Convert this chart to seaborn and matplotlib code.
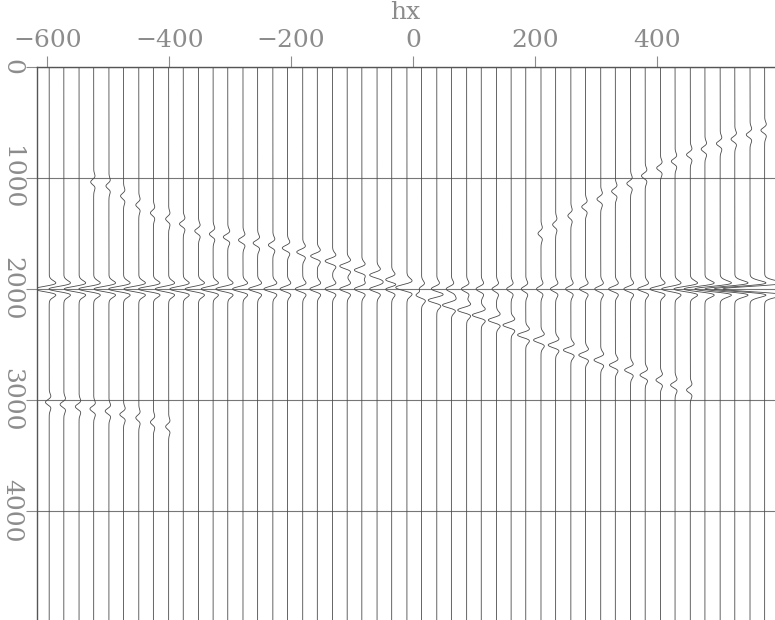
import numpy as np
import pandas as pd
import matplotlib
matplotlib.use("Agg")
import matplotlib.pyplot as plt
import seaborn as sns

# trace offsets (hx)
trace_hx = [-597, -573, -548, -524, -499, -475, -450, -426, -401, -377,
            -352, -328, -304, -279, -255, -230, -206, -181, -157, -132,
            -108, -84, -59, -35, -10, 14, 39, 63, 88, 112,
            137, 161, 185, 210, 234, 259, 283, 308, 332, 357,
            381, 406, 430, 455, 479, 504, 528, 553, 577]
trace_gap = 24.45

# flat event at t = 2000, amplitude in trace spacings
flat_t = 2000
flat_amp = [1.0, 1.0, 1.0, 1.0, 1.0, 1.0, 1.0, 1.0, 0.9, 0.9,
            0.9, 0.8, 0.8, 0.7, 0.6, 0.6, 0.5, 0.5, 0.5, 0.5,
            0.5, 0.5, 0.5, 0.5, 0.5, 0.4, 0.4, 0.35, 0.35, 0.35,
            0.3, 0.3, 0.3, 0.3, 0.35, 0.35, 0.4, 0.4, 0.45, 0.45,
            0.5, 0.7, 0.9, 1.1, 1.4, 1.7, 2.0, 2.4, 2.8]

nan = np.nan
# dipping event (upper left -> lower right)
dip_t = [nan, nan, nan, 1036, 1072, 1162, 1243, 1315, 1369, 1414,
         1477, 1505, 1532, 1559, 1586, 1604, 1631, 1667, 1703, 1748,
         1793, 1829, 1874, 1919, 1973, 2055, 2100, 2145, 2190, 2235,
         2280, 2325, 2414, 2460, 2505, 2550, 2595, 2640, 2685, 2730,
         2775, 2820, 2865, 2910, nan, nan, nan, nan, nan]
dip_amp = [0, 0, 0, 0.2, 0.2, 0.2, 0.2, 0.2, 0.2, 0.25,
           0.25, 0.25, 0.3, 0.3, 0.3, 0.3, 0.35, 0.4, 0.45, 0.5,
           0.5, 0.5, 0.5, 0.5, 0.5, 0.55, 0.6, 0.6, 0.6, 0.6,
           0.55, 0.55, 0.55, 0.5, 0.5, 0.5, 0.45, 0.45, 0.4, 0.4,
           0.35, 0.3, 0.3, 0.25, 0, 0, 0, 0, 0]

# weaker events (lower left, upper right)
anti_t = [3020, 3040, 3060, 3080, 3100, 3130, 3160, 3200, 3240, nan,
          nan, nan, nan, nan, nan, nan, nan, nan, nan, nan,
          nan, nan, nan, nan, nan, nan, nan, nan, nan, nan,
          nan, nan, nan, 1500, 1420, 1340, 1260, 1190, 1120, 1050,
          980, 910, 850, 790, 740, 690, 650, 610, 570]
anti_amp = [0.25, 0.25, 0.25, 0.25, 0.25, 0.25, 0.2, 0.2, 0.2, 0,
            0, 0, 0, 0, 0, 0, 0, 0, 0, 0,
            0, 0, 0, 0, 0, 0, 0, 0, 0, 0,
            0, 0, 0, 0.2, 0.2, 0.2, 0.25, 0.25, 0.25, 0.25,
            0.25, 0.25, 0.25, 0.25, 0.25, 0.25, 0.25, 0.25, 0.25]

x_ticks = [-600, -400, -200, 0, 200, 400]
t_ticks = [0, 1000, 2000, 3000, 4000]


def ricker(t, s=45.0):
    a = (t / s) ** 2
    return (1 - 2 * a) * np.exp(-a)


t = np.arange(0, 5001, 4.0)
rows = []
for k, hx in enumerate(trace_hx):
    w = flat_amp[k] * ricker(t - flat_t)
    if not np.isnan(dip_t[k]):
        w += dip_amp[k] * ricker(t - dip_t[k])
    if not np.isnan(anti_t[k]):
        w += anti_amp[k] * ricker(t - anti_t[k])
    x = hx - trace_gap * w
    rows.append(pd.DataFrame({"trace": k, "t": t, "x": x}))
df = pd.concat(rows, ignore_index=True)

sns.set_style("white")
plt.rcParams["font.family"] = ["DejaVu Serif"]
grey = "#8c8c8c"

fig = plt.figure(figsize=(7.75, 6.2), dpi=100)
ax = fig.add_axes([37 / 775, 0, 1 - 37 / 775, 553 / 620])

ax.yaxis.grid(True, color="#777777", lw=0.8)
ax.set_axisbelow(True)
sns.lineplot(data=df, x="x", y="t", units="trace", estimator=None,
             sort=False, orient="y", color="#4a4a4a", lw=0.6, ax=ax,
             legend=False)

ax.set_xlim(-617, 594)
ax.set_ylim(4982, 0)
ax.xaxis.tick_top()
ax.set_xticks(x_ticks)
ax.set_yticks(t_ticks)
ax.set_xlabel("")
ax.set_ylabel("")
# axis title sits in the top margin, above the tick labels
fig.text(405 / 775, 1 - 1 / 620, "hx", ha="center", va="top",
         fontsize=18, color=grey)
ax.tick_params(axis="x", length=8, width=0.8, color=grey, labelsize=18,
               labelcolor=grey, pad=3, top=True, bottom=False)
ax.tick_params(axis="y", length=8, width=0.8, color=grey, labelsize=18,
               labelcolor=grey, pad=2, labelrotation=-90, left=True)
for lab in ax.get_yticklabels():
    lab.set_va("center")

for side in ["right", "bottom"]:
    ax.spines[side].set_visible(False)
for side in ["left", "top"]:
    ax.spines[side].set_color("#555555")
    ax.spines[side].set_linewidth(1.0)

fig.savefig("out.png", dpi=100)
